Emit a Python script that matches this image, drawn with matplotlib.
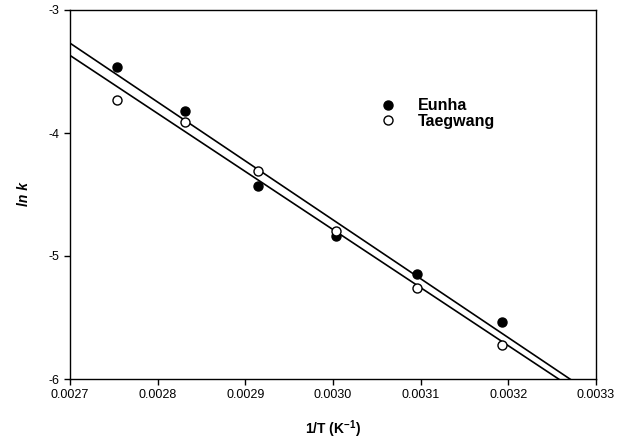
import numpy as np
import matplotlib
matplotlib.use("Agg")
import matplotlib.pyplot as plt

plt.rcParams["font.family"] = ["Liberation Sans", "DejaVu Sans"]
plt.rcParams["axes.unicode_minus"] = False

# 1/T for 90, 80, 70, 60, 50, 40 degC
inv_T = [0.002754, 0.002831, 0.002915, 0.003003, 0.003096, 0.003193]
ln_k_eunha = [-3.46, -3.82, -4.43, -4.84, -5.15, -5.54]
ln_k_taegwang = [-3.73, -3.91, -4.31, -4.80, -5.26, -5.72]

xticks = [0.0027, 0.0028, 0.0029, 0.0030, 0.0031, 0.0032, 0.0033]
yticks = [-6, -5, -4, -3]

fig = plt.figure(figsize=(6.3, 4.47), dpi=100)
ax = fig.add_axes([70 / 630, 1 - 379 / 447, 526 / 630, 369 / 447])

xx = np.array([0.0027, 0.0033])
for ys in (ln_k_eunha, ln_k_taegwang):
    b, a = np.polyfit(inv_T, ys, 1)
    ax.plot(xx, a + b * xx, color="black", lw=1.2, zorder=2)

ax.plot(inv_T, ln_k_eunha, "o", ms=6.5, mfc="black", mec="black",
        label="Eunha", zorder=3)
ax.plot(inv_T, ln_k_taegwang, "o", ms=6.5, mfc="white", mec="black",
        mew=1.0, label="Taegwang", zorder=3)

ax.set_xlim(0.0027, 0.0033)
ax.set_ylim(-6, -3)
ax.set_xticks(xticks)
ax.set_xticklabels([f"{t:.4f}" for t in xticks])
ax.set_yticks(yticks)
ax.set_yticklabels([str(t) for t in yticks])
ax.tick_params(direction="out", length=4, width=1, labelsize=9)
for s in ax.spines.values():
    s.set_linewidth(1.0)

ax.set_xlabel("1/T (K$^{\\mathregular{-1}}$)", fontsize=10, fontweight="bold",
              labelpad=12)
ax.set_ylabel("ln k", fontsize=10, fontweight="bold", style="italic",
              labelpad=13)

ax.legend(loc="upper left", bbox_to_anchor=(0.559, 0.800), frameon=False,
          prop={"weight": "bold", "size": 11.5}, handletextpad=1.27,
          labelspacing=0.05, handlelength=1.2)

fig.savefig("out.png", dpi=100)
